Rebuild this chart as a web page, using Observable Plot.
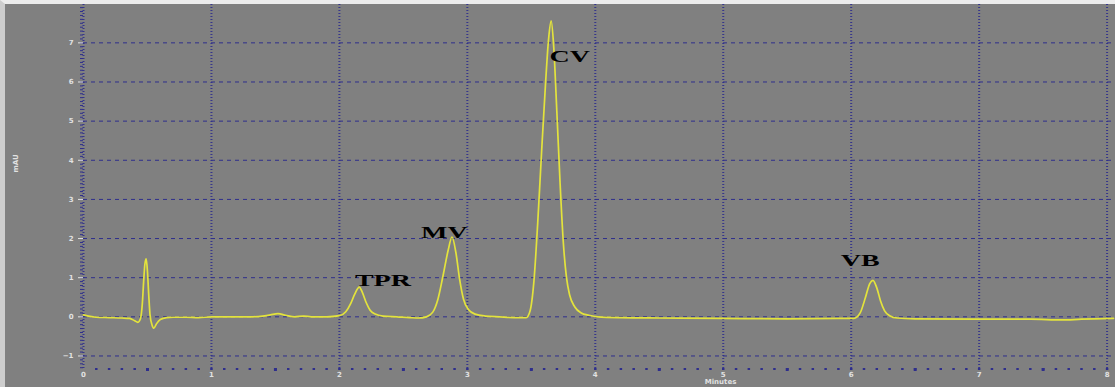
<!DOCTYPE html>
<html>
<head>
<meta charset="utf-8">
<script src="https://cdn.jsdelivr.net/npm/d3@7"></script>
<script src="https://cdn.jsdelivr.net/npm/@observablehq/plot@0.6"></script>
<style>
  html, body { margin: 0; padding: 0; background: #808080; }
  #chart {
    width: 1115px; height: 387px; box-sizing: border-box;
    border-top: 4px solid #ececec; border-left: 5px solid #cdcdcd;
    background: #808080; overflow: hidden;
  }
  #chart svg { display: block; }
</style>
</head>
<body>
<div id="chart"></div>
<script>
// Detector trace: retention time (min) and absorbance (mAU)
const minutes = [
  0.00, 0.04, 0.10, 0.20, 0.30, 0.36, 0.40, 0.425, 0.445, 0.46,
  0.47, 0.48, 0.49, 0.50, 0.51, 0.52, 0.535, 0.55, 0.57, 0.60,
  0.65, 0.70, 0.80, 0.90, 1.00, 1.20, 1.30, 1.40, 1.46, 1.52,
  1.58, 1.65, 1.72, 1.78, 1.90, 2.00, 2.05, 2.09, 2.12, 2.155,
  2.18, 2.21, 2.24, 2.28, 2.34, 2.45, 2.55, 2.62, 2.68, 2.73,
  2.77, 2.81, 2.85, 2.88, 2.91, 2.94, 2.97, 3.01, 3.06, 3.14,
  3.25, 3.40, 3.46, 3.49, 3.52, 3.55, 3.58, 3.61, 3.635, 3.655,
  3.675, 3.70, 3.725, 3.75, 3.775, 3.80, 3.84, 3.89, 3.95, 4.02,
  4.20, 4.50, 5.00, 5.50, 5.90, 6.02, 6.07, 6.11, 6.145, 6.17,
  6.20, 6.23, 6.26, 6.30, 6.36, 6.50, 7.00, 7.40, 7.65, 7.80,
  8.05
];
const mAU = [
  0.05, 0.02, -0.01, -0.02, -0.03, -0.04, -0.10, -0.14, -0.05, 0.35,
  0.90, 1.35, 1.48, 1.15, 0.55, 0.05, -0.20, -0.29, -0.18, -0.07,
  -0.02, -0.01, -0.01, -0.02, 0.00, 0.00, 0.00, 0.02, 0.05, 0.08,
  0.04, 0.00, 0.02, 0.00, 0.00, 0.03, 0.13, 0.35, 0.58, 0.76,
  0.62, 0.36, 0.17, 0.07, 0.02, 0.00, -0.02, -0.03, 0.00, 0.12,
  0.45, 1.05, 1.70, 2.04, 1.65, 0.95, 0.45, 0.18, 0.07, 0.02,
  0.00, -0.02, -0.02, 0.15, 0.90, 2.40, 4.20, 5.90, 7.10, 7.56,
  6.90, 5.20, 3.40, 1.90, 1.00, 0.55, 0.25, 0.10, 0.04, 0.00,
  -0.02, -0.03, -0.04, -0.05, -0.04, -0.04, 0.10, 0.48, 0.85, 0.93,
  0.74, 0.40, 0.16, 0.03, -0.03, -0.05, -0.06, -0.06, -0.08, -0.06,
  -0.04
];

// Peak annotations (anchored in minutes / mAU)
const peakNames = ["TPR", "MV", "CV", "VB"];
const labelMinutes = [2.34, 2.82, 3.80, 6.07];
const labelMAU = [0.78, 2.01, 6.51, 1.29];

// Axis ticks
const yTicks = [-1, 0, 1, 2, 3, 4, 5, 6, 7];
const xTicks = [0, 1, 2, 3, 4, 5, 6, 7, 8];

const trace = minutes.map((t, i) => ({t, v: mAU[i]}));
const labels = peakNames.map((name, i) => ({name, t: labelMinutes[i], v: labelMAU[i]}));

const gridColor = "#2e2e8c";
const inkColor = "#e2e2e2";

const chart = Plot.plot({
  width: 1110,
  height: 383,
  marginLeft: 78,
  marginRight: 2,
  marginTop: 0,
  marginBottom: 19,
  style: {background: "#808080", fontFamily: "DejaVu Sans, sans-serif"},
  x: {domain: [0, 8.05], axis: null},
  y: {domain: [-1.32, 7.98], axis: null},
  marks: [
    Plot.gridY(yTicks, {stroke: gridColor, strokeOpacity: 1, strokeWidth: 1, strokeDasharray: "4,4"}),
    Plot.gridX(xTicks.filter(d => d > 0), {stroke: gridColor, strokeOpacity: 0.9, strokeWidth: 2, strokeDasharray: "1,2"}),
    Plot.ruleX([0], {stroke: gridColor, strokeOpacity: 0.9, strokeWidth: 2, strokeDasharray: "1,2"}),
    // minor ticks along the absorbance axis
    Plot.axisY({ticks: d3.range(-1.3, 8.0, 0.1), tickSize: 3, color: gridColor, tickFormat: () => "", label: null}),
    Plot.axisY({ticks: yTicks, tickSize: 5, tickPadding: 5, color: inkColor, fontSize: 7, fontWeight: "bold", label: null}),
    // minor ticks along the time axis
    Plot.axisX({ticks: d3.range(0.1, 8.05, 0.1), tickSize: 2, strokeWidth: 2.5, color: gridColor, tickFormat: () => "", label: null}),
    Plot.axisX({ticks: d3.range(0.5, 8.05, 1), tickSize: 3, strokeWidth: 3, color: gridColor, tickFormat: () => "", label: null}),
    Plot.axisX({ticks: xTicks, tickSize: 0, tickPadding: 4, color: inkColor, fontSize: 7, fontWeight: "bold", label: null}),
    Plot.line(trace, {x: "t", y: "v", stroke: "#e3e33c", strokeWidth: 1.7, curve: "monotone-x"}),
    Plot.text(labels, {
      x: "t", y: "v", text: "name",
      fontFamily: "Liberation Serif, Times New Roman, serif", fontWeight: "bold", fontSize: 16,
      fill: "#000", lineAnchor: "bottom"
    }),
    Plot.text(["mAU"], {frameAnchor: "left", dx: -68, dy: -14, rotate: -90, fill: inkColor, fontSize: 7, fontWeight: "bold"}),
    Plot.text(["Minutes"], {frameAnchor: "bottom", dx: 122, dy: 11, lineAnchor: "top", fill: inkColor, fontSize: 7, fontWeight: "bold"})
  ]
});

document.getElementById("chart").append(chart);

// Peak names are printed in a wide bold face: stretch them horizontally.
d3.select(chart).selectAll("text").each(function () {
  if (peakNames.includes(this.textContent)) {
    const w = this.getComputedTextLength();
    this.setAttribute("textLength", (w * 1.75).toFixed(1));
    this.setAttribute("lengthAdjust", "spacingAndGlyphs");
  }
});
</script>
</body>
</html>
